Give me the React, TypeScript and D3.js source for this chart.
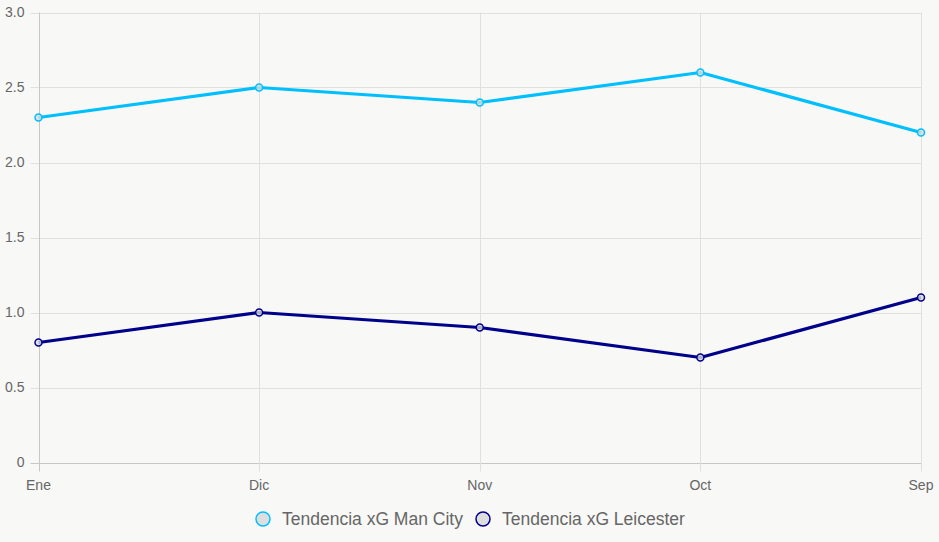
import React from "react";
import * as d3 from "d3";

const categories = ["Ene", "Dic", "Nov", "Oct", "Sep"];
const manCity = [2.3, 2.5, 2.4, 2.6, 2.2];
const leicester = [0.8, 1.0, 0.9, 0.7, 1.1];
const yTicks = [0, 0.5, 1.0, 1.5, 2.0, 2.5, 3.0];
const seriesNames = ["Tendencia xG Man City", "Tendencia xG Leicester"];
const seriesColors = ["#00bfff", "#00008b"];

export default function App() {
  const W = 939, H = 542;
  const left = 38.5, right = 921, top = 12.5, bottom = 462.5;
  const x = d3.scalePoint<string>().domain(categories).range([left, right]);
  const y = d3.scaleLinear().domain([0, 3]).range([bottom, top]);
  const line = d3.line<number>().x((_, i) => x(categories[i])!).y((d) => y(d));
  const series = [manCity, leicester];
  const font = "'Liberation Sans', Arial, Helvetica, sans-serif";
  return (
    <div style={{ position: "fixed", left: 0, top: 0 }}>
      <svg width={W} height={H} style={{ display: "block", background: "#f8f8f6" }}>
        <rect width={W} height={H} fill="#f8f8f6" />
        {yTicks.map((t) => (
          <g key={t}>
            <line x1={left - 8} x2={right} y1={Math.round(y(t)) + 0.5} y2={Math.round(y(t)) + 0.5}
              stroke={t === 0 ? "#c8c8c8" : "#e0e0e0"} strokeWidth={1} />
            <text x={left - 14} y={y(t)} dy="0.35em" textAnchor="end" fontSize={14} fill="#666" fontFamily={font}>
              {t === 0 ? "0" : t.toFixed(1)}
            </text>
          </g>
        ))}
        {categories.map((c, i) => (
          <g key={c}>
            <line x1={Math.round(x(c)!) + 0.5} x2={Math.round(x(c)!) + 0.5} y1={top} y2={bottom + 9}
              stroke={i === 0 ? "#c8c8c8" : "#e0e0e0"} strokeWidth={1} />
            <text x={x(c)!} y={bottom + 27} textAnchor="middle" fontSize={14} fill="#666" fontFamily={font}>{c}</text>
          </g>
        ))}
        {series.map((s, si) => (
          <g key={si}>
            <path d={line(s)!} fill="none" stroke={seriesColors[si]} strokeWidth={3.2} strokeLinejoin="round" />
            {s.map((v, i) => (
              <circle key={i} cx={x(categories[i])!} cy={y(v)} r={3.5} fill="rgba(220,220,220,0.8)"
                stroke={seriesColors[si]} strokeWidth={1.5} />
            ))}
          </g>
        ))}
        {seriesNames.map((n, i) => {
          const lx = i === 0 ? 263 : 483;
          return (
            <g key={n}>
              <circle cx={lx} cy={519} r={7} fill="#dedede" stroke={seriesColors[i]} strokeWidth={1.5} />
              <text x={lx + 19} y={519} dy="0.35em" fontSize={17.5} fill="#666" fontFamily={font}>{n}</text>
            </g>
          );
        })}
      </svg>
    </div>
  );
}
